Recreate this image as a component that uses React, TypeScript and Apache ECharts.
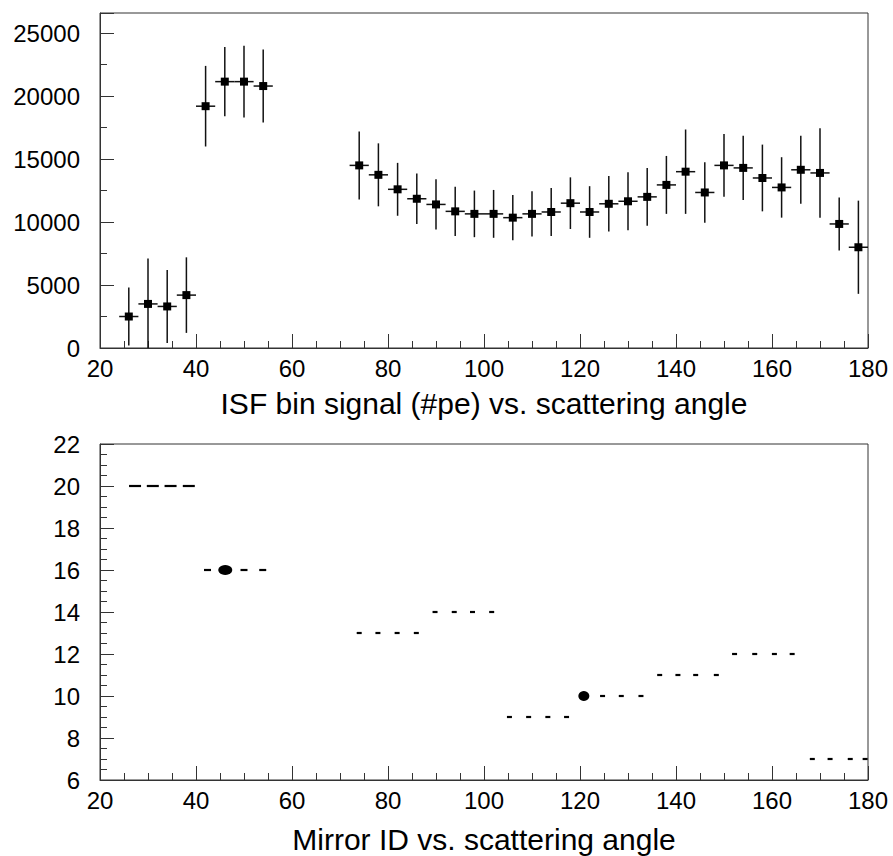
import React, { useEffect, useRef } from "react";
import * as echarts from "echarts";

// ---- Top panel: ISF bin signal (#pe) vs. scattering angle ----
const signalAngles = [
  26, 30, 34, 38, 42, 46, 50, 54,
  74, 78, 82, 86, 90, 94, 98, 102, 106, 110, 114, 118, 122, 126, 130, 134,
  138, 142, 146, 150, 154, 158, 162, 166, 170, 174, 178,
];
const signalValues = [
  2500, 3500, 3300, 4200, 19200, 21150, 21150, 20800,
  14500, 13750, 12600, 11850, 11400, 10850, 10650, 10650, 10350, 10650, 10800, 11500, 10800, 11450, 11650, 12000,
  12950, 14000, 12350, 14500, 14300, 13500, 12750, 14150, 13900, 9850, 8000,
];
const signalErrors = [
  2300, 3600, 2900, 3000, 3200, 2750, 2850, 2900,
  2700, 2500, 2100, 2000, 2000, 1950, 1850, 1900, 1800, 1800, 1900, 2050, 2050, 2200, 2300, 2300,
  2300, 3350, 2400, 2500, 2550, 2650, 2400, 2700, 3550, 2100, 3700,
];
const binHalfWidth = 2;

// ---- Bottom panel: Mirror ID vs. scattering angle ----
const mirrorIds = [20, 16, 13, 14, 9, 10, 11, 12, 7];
const mirrorAngles = [
  [27.3, 31.0, 34.7, 38.5],
  [42.4, 46.1, 50.0, 53.9],
  [74.0, 77.9, 81.9, 85.9],
  [89.8, 93.8, 97.6, 101.6],
  [105.3, 109.3, 113.3, 117.2],
  [120.8, 124.7, 128.6, 132.7],
  [136.6, 140.4, 144.1, 148.4],
  [152.2, 156.4, 160.5, 164.2],
  [168.4, 172.1, 176.3, 179.4],
];
const mirrorHits = [
  [3, 3, 3, 3],
  [2, 9, 2, 2],
  [1, 1, 1, 1],
  [1, 1, 1, 1],
  [1, 1, 1, 1],
  [6, 1, 1, 1],
  [1, 1, 1, 1],
  [1, 1, 1, 1],
  [1, 1, 1, 1],
];

const topTitle = "ISF bin signal (#pe) vs. scattering angle";
const bottomTitle = "Mirror ID vs. scattering angle";

const FONT = "Liberation Sans";
const FRAME = "#333";

export default function App() {
  const ref = useRef<HTMLDivElement>(null);

  useEffect(() => {
    if (!ref.current) return;
    const chart = echarts.init(ref.current, null, { renderer: "svg" });

    const signalData = signalAngles.map((a, i) => [a, signalValues[i], signalErrors[i]]);
    const mirrorData: number[][] = [];
    mirrorIds.forEach((id, i) => {
      mirrorAngles[i].forEach((a, j) => mirrorData.push([a, id, mirrorHits[i][j]]));
    });

    const plain = (v: number) => String(v);

    const xAxisBase = (gridIndex: number, name: string, nameGap: number) => ({
      type: "value",
      gridIndex,
      min: 20,
      max: 180,
      interval: 20,
      name,
      nameLocation: "middle",
      nameGap,
      nameTextStyle: { fontFamily: FONT, fontSize: 30, color: "#000" },
      axisLine: { show: true, onZero: false, lineStyle: { color: FRAME, width: 1 } },
      axisTick: { show: true, inside: true, length: 14, lineStyle: { color: FRAME, width: 1 } },
      minorTick: { show: true, splitNumber: 4, length: 7, lineStyle: { color: FRAME, width: 1 } },
      splitLine: { show: false },
      minorSplitLine: { show: false },
      axisLabel: { fontFamily: FONT, fontSize: 24, color: "#000", margin: 8, formatter: plain },
    });

    const option: any = {
      animation: false,
      backgroundColor: "#fff",
      grid: [
        { left: 100, top: 13, width: 768, height: 335, show: true, borderColor: FRAME, borderWidth: 1, backgroundColor: "transparent" },
        { left: 100, top: 444, width: 768, height: 336, show: true, borderColor: FRAME, borderWidth: 1, backgroundColor: "transparent" },
      ],
      xAxis: [xAxisBase(0, topTitle, 40), xAxisBase(1, bottomTitle, 44)],
      yAxis: [
        {
          type: "value",
          gridIndex: 0,
          min: 0,
          max: 26600,
          interval: 5000,
          axisLine: { show: true, lineStyle: { color: FRAME, width: 1 } },
          axisTick: { show: true, inside: true, length: 14, lineStyle: { color: FRAME, width: 1 } },
          minorTick: { show: true, splitNumber: 2, length: 7, lineStyle: { color: FRAME, width: 1 } },
          splitLine: { show: false },
          axisLabel: { fontFamily: FONT, fontSize: 24, color: "#000", margin: 20, showMaxLabel: false, formatter: plain },
        },
        {
          type: "value",
          gridIndex: 1,
          min: 6,
          max: 22,
          interval: 2,
          axisLine: { show: true, lineStyle: { color: FRAME, width: 1 } },
          axisTick: { show: true, inside: true, length: 14, lineStyle: { color: FRAME, width: 1 } },
          minorTick: { show: true, splitNumber: 4, length: 7, lineStyle: { color: FRAME, width: 1 } },
          splitLine: { show: false },
          axisLabel: { fontFamily: FONT, fontSize: 24, color: "#000", margin: 20, formatter: plain },
        },
      ],
      series: [
        {
          type: "custom",
          xAxisIndex: 0,
          yAxisIndex: 0,
          clip: true,
          data: signalData,
          renderItem: (params: any, api: any) => {
            const x = api.value(0);
            const y = api.value(1);
            const e = api.value(2);
            const c = api.coord([x, y]);
            const l = api.coord([x - binHalfWidth, y]);
            const r = api.coord([x + binHalfWidth, y]);
            const t = api.coord([x, y + e]);
            const b = api.coord([x, y - e]);
            const s = 8;
            return {
              type: "group",
              children: [
                { type: "line", shape: { x1: l[0], y1: l[1], x2: r[0], y2: r[1] }, style: { stroke: "#111", lineWidth: 1.5 } },
                { type: "line", shape: { x1: t[0], y1: t[1], x2: b[0], y2: b[1] }, style: { stroke: "#111", lineWidth: 1.5 } },
                { type: "rect", shape: { x: c[0] - s / 2, y: c[1] - s / 2, width: s, height: s }, style: { fill: "#000" } },
              ],
            };
          },
        },
        {
          type: "scatter",
          xAxisIndex: 1,
          yAxisIndex: 1,
          data: mirrorData,
          symbol: (v: number[]) => (v[2] >= 5 ? "circle" : "rect"),
          symbolSize: (v: number[]) => (v[2] >= 5 ? [v[2] + 5, 10] : [[0, 5, 7, 12][v[2]], 2.2]),
          itemStyle: { color: "#000", opacity: 1 },
        },
      ],
    };

    chart.setOption(option);
    return () => chart.dispose();
  }, []);

  return (
    <div
      ref={ref}
      style={{ position: "absolute", left: 0, top: 0, width: 893, height: 856, background: "#fff" }}
    />
  );
}
